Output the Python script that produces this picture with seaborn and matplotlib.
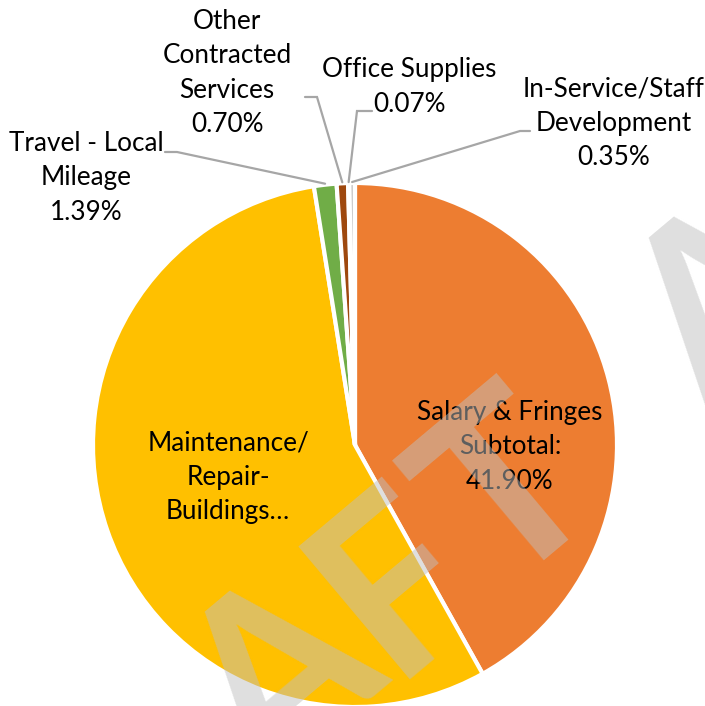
import matplotlib
matplotlib.use("Agg")
import matplotlib.pyplot as plt
import numpy as np
import pandas as pd
import seaborn as sns

# ---- data ----
categories = ["Salary & Fringes Subtotal", "Maintenance/Repair-Buildings",
              "Travel - Local Mileage", "Other Contracted Services",
              "Office Supplies", "In-Service/Staff Development"]
shares = [41.90, 55.59, 1.39, 0.70, 0.07, 0.35]
label_texts = ["Salary & Fringes\nSubtotal:\n41.90%",
               "Maintenance/\nRepair-\nBuildings\u2026",
               "Travel - Local\nMileage\n1.39%",
               "Other\nContracted\nServices\n0.70%",
               "Office Supplies\n0.07%",
               "In-Service/Staff\nDevelopment\n0.35%"]
colors = ["#ED7D31", "#FFC000", "#70AD47", "#9E480E", "#636363", "#C9C9C9"]

sns.set_theme(style="white")
FONT = ["Lato", "DejaVu Sans"]
plt.rcParams["font.family"] = FONT

W, H = 705, 706
fig = plt.figure(figsize=(W / 100, H / 100), dpi=100)
ax = fig.add_axes([0, 0, 1, 1])


def P(px, py):
    return (px, H - py)


cx, cy = P(355, 445)
R = 262
palette = sns.color_palette(colors)
wedges, _ = ax.pie(shares, colors=palette, startangle=90, counterclock=False,
                   center=(cx, cy), radius=R,
                   wedgeprops=dict(edgecolor="white", linewidth=3))
ax.set_xlim(0, W)
ax.set_ylim(0, H)
ax.set_aspect("equal", adjustable="box")
ax.axis("off")

# label positions (pixel centers)
label_pos = [(510, 447), (228, 477), (86, 178), (227, 73), (409, 87), (614, 123)]
for txt, (px, py) in zip(label_texts, label_pos):
    ax.text(*P(px, py), txt, ha="center", va="center", fontsize=18.8,
            linespacing=1.46, color="#000000", zorder=5)

# leader lines for small slices: (index, end point, elbow point)
leaders = [(2, (165, 152), (177, 152)),
           (3, (305, 97), (317, 97)),
           (4, (372, 111), (357, 111)),
           (5, (530, 131), (520, 131))]
for idx, end, elbow in leaders:
    w = wedges[idx]
    mid = np.deg2rad((w.theta1 + w.theta2) / 2)
    rx, ry = cx + (R + 1) * np.cos(mid), cy + (R + 1) * np.sin(mid)
    ex, ey = P(*end)
    bx, by = P(*elbow)
    ax.plot([ex, bx, rx], [ey, by, ry], color="#A6A6A6", lw=1.6,
            solid_joinstyle="miter", zorder=4)

# DRAFT watermark (letters anchored on baseline, rotated 40 degrees)
wm_size = 172
cap_px = 0.7165 * wm_size * 100 / 72
rot = 40
down = np.array([np.sin(np.deg2rad(rot)), np.cos(np.deg2rad(rot))])  # screen coords
wm = [("A", (274, 670)), ("F", (388, 570)), ("T", (500, 482)), ("A", (718, 296))]
for ch, (px, py) in wm:
    bx, by = np.array([px, py]) + down * cap_px / 2
    ax.text(*P(bx, by), ch, ha="center", va="baseline", rotation_mode="anchor",
            fontsize=wm_size, fontweight="bold", rotation=rot,
            color="#BFBFBF", alpha=0.5, zorder=10)

fig.savefig("out.png", dpi=100)
